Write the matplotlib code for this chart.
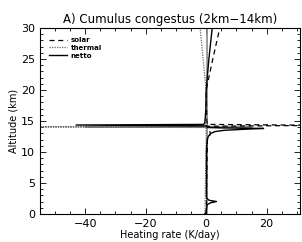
import matplotlib
matplotlib.use("Agg")
import matplotlib.pyplot as plt
from matplotlib.ticker import MultipleLocator

# heating rate profiles (K/day) vs altitude (km)
netto_alt = [0.0, 0.3, 0.8, 1.5, 1.8, 2.0, 2.2, 2.5, 3.0, 5.0, 8.0, 10.0, 11.0,
             12.0, 12.5, 13.0, 13.3, 13.5, 13.65, 13.8, 13.9, 14.0, 14.2,
             14.35, 14.45, 14.6, 15.5, 17.0, 20.0, 25.0, 30.0]
netto = [-0.4, 0.0, 0.1, 0.3, 1.5, 3.4, 1.0, 0.2, 0.1, 0.1, 0.1, 0.1, 0.2,
         0.4, 0.7, 1.5, 3.0, 6.0, 12.0, 19.0, 5.0, 0.5, 0.3,
         -43.0, -1.0, -0.5, -0.3, -0.1, 0.0, 0.9, 2.0]

solar_alt = [0.0, 12.0, 13.0, 13.8, 14.0, 14.15, 14.3, 14.45, 15.0, 20.0, 25.0, 30.0]
solar = [0.0, 0.4, 1.5, 0.5, 0.3, 0.3, 40.0, 0.5, 0.2, 0.0, 2.2, 4.5]

thermal_alt = [0.0, 12.0, 13.8, 13.95, 14.05, 14.15, 14.3, 15.0, 20.0, 25.0, 30.0]
thermal = [-0.4, 0.0, 0.0, -0.5, -60.0, -1.0, -0.3, -0.1, 0.0, -1.0, -2.0]

# grey reference profile
ref_alt = [0.0, 13.9, 14.0, 14.05, 14.1, 30.0]
ref = [0.3, 0.3, 15.0, -40.0, 0.3, 0.3]

fig = plt.figure(figsize=(3.02, 2.42), dpi=100)
ax = fig.add_axes([0.132, 0.116, 0.861, 0.768])

ax.plot(ref, ref_alt, color="0.55", lw=1.2)
ax.plot(solar, solar_alt, color="black", lw=0.9, ls=(0, (4, 3)), label="solar")
ax.plot(thermal, thermal_alt, color="0.4", lw=0.9, ls=(0, (1, 1)), label="thermal")
ax.plot(netto, netto_alt, color="black", lw=1.0, label="netto")

ax.set_xlim(-55, 31)
ax.set_ylim(0, 30)
ax.xaxis.set_major_locator(MultipleLocator(20))
ax.xaxis.set_minor_locator(MultipleLocator(5))
ax.yaxis.set_major_locator(MultipleLocator(5))
ax.yaxis.set_minor_locator(MultipleLocator(1))
ax.tick_params(which="both", direction="in", top=True, right=True, labelsize=8)
ax.tick_params(which="major", length=4, width=0.6)
ax.tick_params(which="minor", length=2, width=0.6)
for s in ax.spines.values():
    s.set_linewidth(0.8)

ax.set_xlabel("Heating rate (K/day)", fontsize=7, labelpad=1)
ax.set_ylabel("Altitude (km)", fontsize=7, labelpad=2)
ax.set_title("A) Cumulus congestus (2km\u221214km)", fontsize=8.5, pad=4)

leg = ax.legend(loc="upper left", frameon=False, fontsize=5, handlelength=2.6,
                handletextpad=0.5, labelspacing=0.25, borderaxespad=0.9)
for t in leg.get_texts():
    t.set_fontweight("bold")

fig.savefig("out.png", dpi=100)
